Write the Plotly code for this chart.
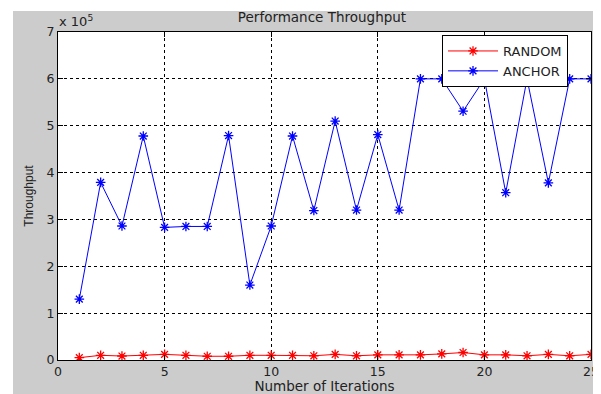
import plotly.graph_objects as go

iterations = list(range(1, 26))
random_vals = [0.05, 0.10, 0.085, 0.10, 0.12, 0.10, 0.08, 0.08, 0.10, 0.10, 0.10,
               0.09, 0.12, 0.09, 0.11, 0.11, 0.11, 0.13, 0.16, 0.11, 0.11, 0.09, 0.12, 0.09, 0.12]
anchor_vals = [1.30, 3.79, 2.86, 4.78, 2.83, 2.85, 2.85, 4.79, 1.60, 2.86, 4.78,
               3.19, 5.10, 3.20, 4.81, 3.20, 6.00, 6.00, 5.31, 6.00, 3.57, 6.00, 3.78, 6.00, 6.00]
scale = 1e5
x_ticks = [0, 5, 10, 15, 20, 25]
y_ticks = [0, 1, 2, 3, 4, 5, 6, 7]

WIDE = "DejaVu Sans, Verdana, sans-serif"
NARROW = "Liberation Sans, Arial, sans-serif"
TXT = "#222222"

fig = go.Figure()
fig.add_trace(go.Scatter(
    x=iterations, y=[v * scale for v in random_vals], name="RANDOM",
    mode="lines+markers",
    line=dict(color="#ff0000", width=1),
    marker=dict(symbol="asterisk-open", size=8, color="#ff0000", line=dict(color="#ff0000", width=1.3)),
))
fig.add_trace(go.Scatter(
    x=iterations, y=[v * scale for v in anchor_vals], name="ANCHOR",
    mode="lines+markers",
    line=dict(color="#0000ff", width=1),
    marker=dict(symbol="asterisk-open", size=8, color="#0000ff", line=dict(color="#0000ff", width=1.3)),
))

# page has an 8px body margin; lay out in page pixels and convert
OFF = 8
PW, PH = 601, 394
W, H = PW - OFF, PH - OFF
L, T = 58 - OFF, 32 - OFF
B = H - (360 - OFF)
R = W - (591 - OFF)
pw, ph = W - L - R, H - T - B


def px(xp):  # page x -> paper x
    return (xp - OFF - L) / pw


def py(yp):  # page y -> paper y
    return (H - B - (yp - OFF)) / ph


# white strips at the top and left of the grey figure background
fig.add_shape(type="rect", xref="paper", yref="paper",
              x0=px(0) - 0.05, x1=px(13), y0=py(PH) - 0.05, y1=py(0) + 0.05,
              fillcolor="white", line=dict(width=0), layer="below")
fig.add_shape(type="rect", xref="paper", yref="paper",
              x0=px(0) - 0.05, x1=px(PW) + 0.05, y0=py(11), y1=py(0) + 0.05,
              fillcolor="white", line=dict(width=0), layer="below")

axis_common = dict(
    showline=True, linecolor="black", linewidth=1, mirror="ticks",
    ticks="inside", ticklen=5, tickcolor="black",
    showgrid=True, gridcolor="black", gridwidth=1, griddash="3px,3px",
    zeroline=False, automargin=False,
    tickfont=dict(family=WIDE, size=12.5, color=TXT),
)

fig.update_xaxes(range=[0, 25], tickvals=x_ticks, ticktext=[str(t) for t in x_ticks],
                 title=dict(text="Number of Iterations", font=dict(family=WIDE, size=13.5, color=TXT), standoff=0),
                 **axis_common)
fig.update_yaxes(range=[0, 7 * scale], tickvals=[t * scale for t in y_ticks], ticktext=[str(t) for t in y_ticks],
                 title=dict(text="Throughput", font=dict(family=NARROW, size=12, color=TXT), standoff=10),
                 **axis_common)

fig.add_annotation(text="x 10<sup>5</sup>", xref="paper", yref="paper",
                   x=px(57), y=py(21), xanchor="left", yanchor="middle",
                   showarrow=False, font=dict(family=WIDE, size=13, color=TXT))

fig.update_layout(
    template="none",
    width=W, height=H,
    margin=dict(l=L, r=R, t=T, b=B, autoexpand=False),
    paper_bgcolor="#cccccc", plot_bgcolor="white",
    title=dict(text="Performance Throughput", x=(322 - OFF) / W, xanchor="center",
               y=1 - (17 - OFF) / H, yanchor="middle", font=dict(family=WIDE, size=13.5, color=TXT)),
    legend=dict(x=px(442), y=py(35), xanchor="left", yanchor="top",
                bgcolor="white", bordercolor="black", borderwidth=1,
                font=dict(family=WIDE, size=13, color=TXT),
                itemwidth=50, tracegroupgap=0),
    showlegend=True,
)

fig.write_html("out.html")
